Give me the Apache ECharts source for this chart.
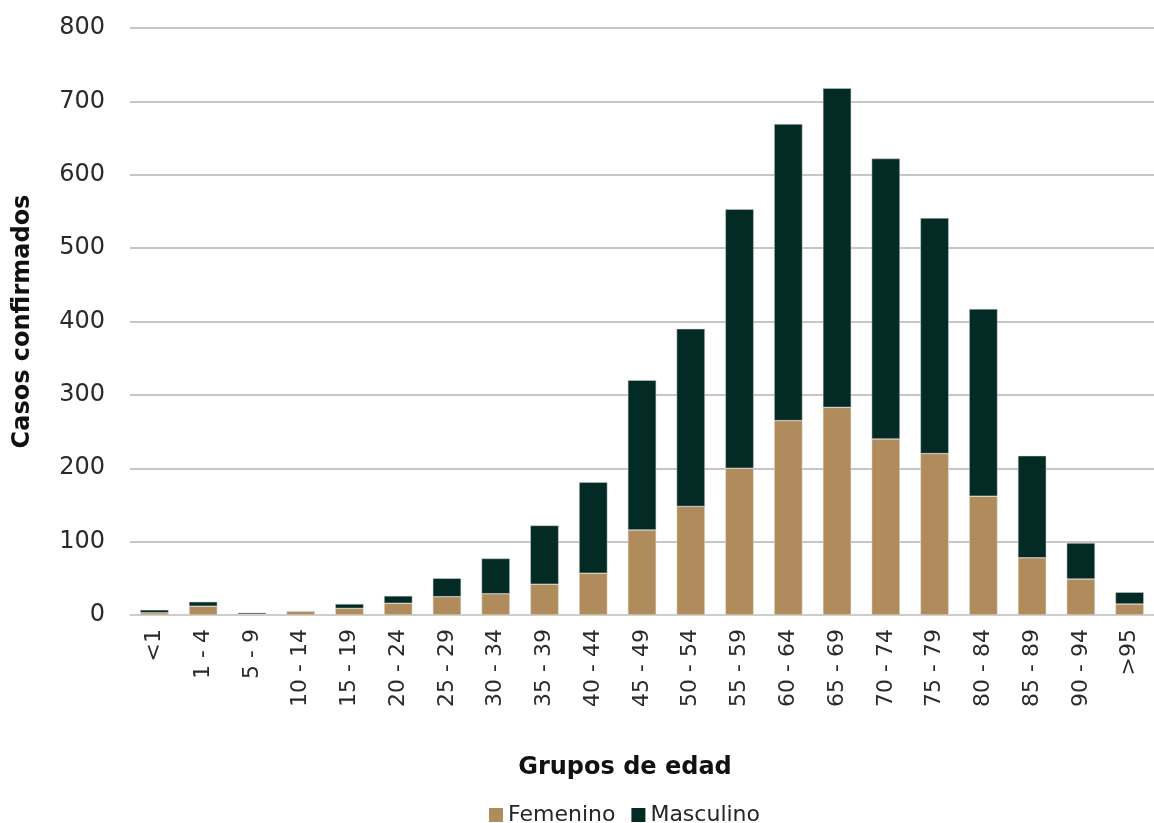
<!DOCTYPE html>
<html>
<head>
<meta charset="utf-8">
<script src="https://cdn.jsdelivr.net/npm/echarts@6/dist/echarts.min.js"></script>
<style>
  html, body { margin: 0; padding: 0; background: #fff; }
  #chart { width: 1154px; height: 823px; }
</style>
</head>
<body>
<div id="chart"></div>
<script>
// Confirmed cases by age group, split by sex
const grupos = ['<1', '1 - 4', '5 - 9', '10 - 14', '15 - 19', '20 - 24', '25 - 29', '30 - 34',
  '35 - 39', '40 - 44', '45 - 49', '50 - 54', '55 - 59', '60 - 64', '65 - 69', '70 - 74',
  '75 - 79', '80 - 84', '85 - 89', '90 - 94', '>95'];
const femenino = [3, 12, 1, 5, 9, 16, 25, 29, 42, 57, 116, 148, 200, 265, 283, 240, 220, 162, 78, 49, 15];
const masculino = [4, 6, 2, 0, 6, 10, 25, 48, 80, 124, 204, 242, 353, 404, 435, 382, 321, 255, 139, 49, 16];
const yTicks = [0, 100, 200, 300, 400, 500, 600, 700, 800];

const FONT = 'DejaVu Sans';
const chart = echarts.init(document.getElementById('chart'));
chart.setOption({
  backgroundColor: '#ffffff',
  animation: false,
  textStyle: { fontFamily: FONT },
  grid: { left: 130, right: 0, top: 28, bottom: 208 },
  legend: {
    top: 799,
    left: 484,
    itemWidth: 14,
    itemHeight: 14,
    itemGap: 16,
    icon: 'rect',
    itemStyle: { borderWidth: 0 },
    textStyle: { fontFamily: FONT, fontSize: 22, color: '#262626' },
    data: ['Femenino', 'Masculino']
  },
  xAxis: {
    type: 'category',
    data: grupos,
    name: 'Grupos de edad',
    nameLocation: 'middle',
    nameGap: 141,
    nameTextStyle: { fontFamily: FONT, fontSize: 24, fontWeight: 'bold', color: '#111111', padding: [0, 34, 0, 0] },
    axisLine: { lineStyle: { color: '#d0d0d0', width: 1.5 } },
    axisTick: { show: false },
    axisLabel: { rotate: 90, margin: 14, fontSize: 22, color: '#2a2a2a', fontFamily: FONT, interval: 0 }
  },
  yAxis: {
    type: 'value',
    min: yTicks[0],
    max: yTicks[yTicks.length - 1],
    interval: 100,
    name: 'Casos confirmados',
    nameLocation: 'middle',
    nameGap: 95,
    nameTextStyle: { fontFamily: FONT, fontSize: 24, fontWeight: 'bold', color: '#111111' },
    axisLine: { show: false },
    axisTick: { show: false },
    axisLabel: { margin: 25, fontSize: 24, color: '#2a2a2a', fontFamily: FONT },
    splitLine: { lineStyle: { color: '#b3b3b3', width: 1.5 } }
  },
  series: [
    {
      name: 'Femenino',
      type: 'bar',
      stack: 'total',
      data: femenino,
      barWidth: '58%',
      itemStyle: { color: '#b08c5c', borderColor: '#e8e0d4', borderWidth: 0.5 }
    },
    {
      name: 'Masculino',
      type: 'bar',
      stack: 'total',
      data: masculino,
      barWidth: '58%',
      itemStyle: { color: '#032a25', borderColor: '#c8cfcd', borderWidth: 0.5 }
    }
  ]
});
</script>
</body>
</html>
